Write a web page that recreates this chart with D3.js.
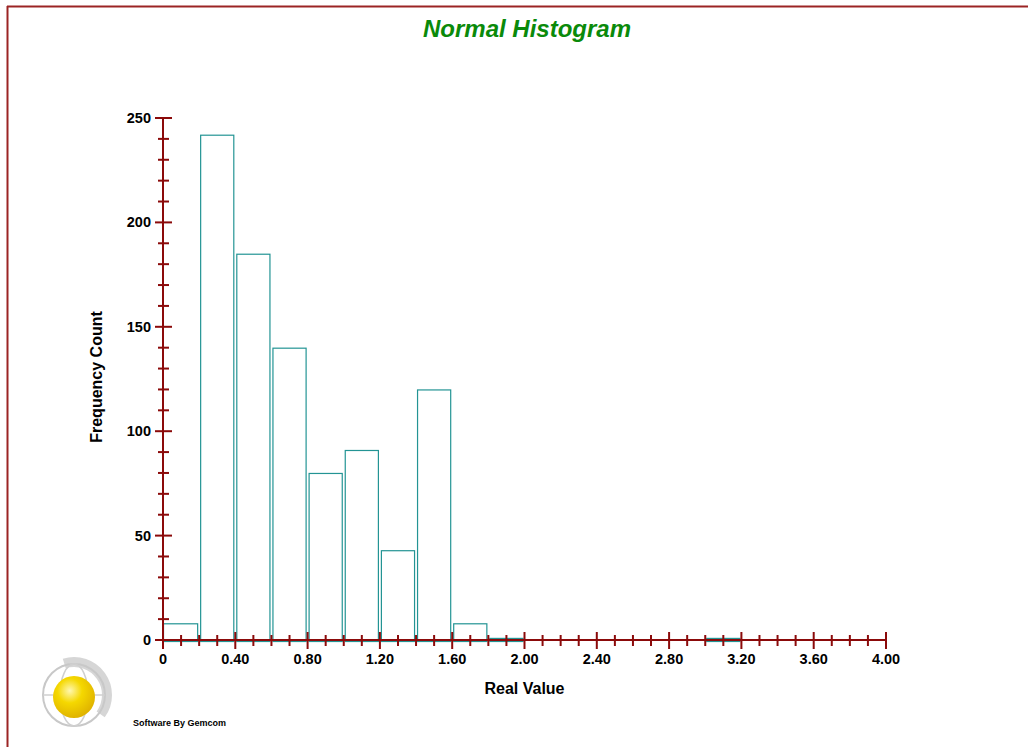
<!DOCTYPE html>
<html>
<head>
<meta charset="utf-8">
<script src="https://cdn.jsdelivr.net/npm/d3@7"></script>
<style>
  body { margin: 0; background: #fff; }
  text { font-family: "Liberation Sans", Arial, sans-serif; }
</style>
</head>
<body>
<div class="chart"></div>
<script>
// bin edges and counts
const binStarts = [0, 0.2, 0.4, 0.6, 0.8, 1.0, 1.2, 1.4, 1.6, 1.8, 3.0];
const counts    = [8, 242, 185, 140, 80, 91, 43, 120, 8, 1, 1];
const binWidth = 0.2;
const xTickLabels = ["0", "0.40", "0.80", "1.20", "1.60", "2.00", "2.40", "2.80", "3.20", "3.60", "4.00"];
const yTickValues = [0, 50, 100, 150, 200, 250];

const W = 1028, H = 747;
const margin = {top: 118, left: 163, right: 142, bottom: 107};
const width = W - margin.left - margin.right;
const height = H - margin.top - margin.bottom;

const axisColor = "#8b0a0a";
const barColor = "#239494";

const root = d3.select(".chart").append("svg")
    .attr("width", W)
    .attr("height", H);

// frame lines top and left
root.append("line")
    .attr("x1", 7).attr("x2", W).attr("y1", 6.5).attr("y2", 6.5)
    .attr("stroke", "#9b2424").attr("stroke-width", 2);
root.append("line")
    .attr("x1", 7.5).attr("x2", 7.5).attr("y1", 6).attr("y2", H)
    .attr("stroke", "#9b2424").attr("stroke-width", 2);

// title
root.append("text")
    .attr("x", 527).attr("y", 37)
    .attr("text-anchor", "middle")
    .attr("font-size", 24)
    .attr("font-weight", "bold")
    .attr("font-style", "italic")
    .attr("fill", "#0a8a0a")
    .text("Normal Histogram");

const svg = root.append("g")
    .attr("transform", `translate(${margin.left},${margin.top})`);

const xScale = d3.scaleLinear().domain([0, 4]).range([0, width]);
const yScale = d3.scaleLinear().domain([0, 250]).range([height, 0]);

// bars
svg.selectAll(".bar")
    .data(binStarts.map((b, i) => ({x0: b, x1: b + binWidth, n: counts[i]})))
    .enter()
    .append("rect")
    .attr("class", "bar")
    .attr("x", d => xScale(d.x0) + (d.x0 === 0 ? 0.5 : 1.5))
    .attr("y", d => yScale(d.n) + 0.5)
    .attr("width", d => xScale(d.x1) - xScale(d.x0) - (d.x0 === 0 ? 2 : 3))
    .attr("height", d => yScale(0) - yScale(d.n) + 1)
    .attr("fill", "none")
    .attr("stroke", barColor)
    .attr("stroke-width", 1.2);

// y axis
const yAxisG = svg.append("g").attr("class", "y-axis");
yAxisG.append("line")
    .attr("x1", 0).attr("x2", 0)
    .attr("y1", yScale(250)).attr("y2", yScale(0))
    .attr("stroke", axisColor).attr("stroke-width", 2);
yAxisG.selectAll(".ytick")
    .data(d3.range(0, 251, 10))
    .enter().append("line")
    .attr("x1", d => d % 50 === 0 ? -8 : -5)
    .attr("x2", d => d % 50 === 0 ? 9 : 6)
    .attr("y1", d => yScale(d)).attr("y2", d => yScale(d))
    .attr("stroke", axisColor).attr("stroke-width", 2);
yAxisG.selectAll(".ylab")
    .data(yTickValues)
    .enter().append("text")
    .attr("x", -12)
    .attr("y", d => yScale(d) + 5)
    .attr("text-anchor", "end")
    .attr("font-size", 14.5)
    .attr("font-weight", "bold")
    .text(d => d);

// x axis
const xAxisG = svg.append("g").attr("class", "x-axis")
    .attr("transform", `translate(0,${height})`);
xAxisG.append("line")
    .attr("x1", 0).attr("x2", xScale(4))
    .attr("stroke", axisColor).attr("stroke-width", 2);
xAxisG.selectAll(".xtick")
    .data(d3.range(0, 41))
    .enter().append("line")
    .attr("x1", d => xScale(d / 10)).attr("x2", d => xScale(d / 10))
    .attr("y1", d => d % 4 === 0 ? -8 : -5)
    .attr("y2", d => d % 4 === 0 ? 9 : 6)
    .attr("stroke", axisColor).attr("stroke-width", 2);
xAxisG.selectAll(".xlab")
    .data(xTickLabels)
    .enter().append("text")
    .attr("x", (d, i) => xScale(i * 0.4))
    .attr("y", 24)
    .attr("text-anchor", "middle")
    .attr("font-size", 14.5)
    .attr("font-weight", "bold")
    .text(d => d);

// axis titles
svg.append("text")
    .attr("x", xScale(2)).attr("y", height + 54)
    .attr("text-anchor", "middle")
    .attr("font-size", 16)
    .attr("font-weight", "bold")
    .text("Real Value");

svg.append("text")
    .attr("transform", `translate(-61,${height / 2 - 2}) rotate(-90)`)
    .attr("text-anchor", "middle")
    .attr("font-size", 16)
    .attr("font-weight", "bold")
    .text("Frequency Count");

// logo - rough globe
const logo = root.append("g").attr("transform", "translate(74,695)");
logo.append("path")
    .attr("d", d3.arc()({innerRadius: 28, outerRadius: 38, startAngle: -0.3, endAngle: 2.2}))
    .attr("fill", "#d6d6d6");
logo.append("circle").attr("r", 31).attr("fill", "none").attr("stroke", "#c8c8c8").attr("stroke-width", 2);
logo.append("ellipse").attr("rx", 14).attr("ry", 31).attr("fill", "none").attr("stroke", "#cfcfcf").attr("stroke-width", 1.5);
logo.append("line").attr("x1", -31).attr("x2", 31).attr("stroke", "#cfcfcf").attr("stroke-width", 1.5);
const grad = root.append("defs").append("radialGradient").attr("id", "sun")
    .attr("cx", "40%").attr("cy", "35%").attr("r", "65%");
grad.append("stop").attr("offset", "0%").attr("stop-color", "#fff7b0");
grad.append("stop").attr("offset", "45%").attr("stop-color", "#f5d800");
grad.append("stop").attr("offset", "100%").attr("stop-color", "#e0b400");
logo.append("circle").attr("r", 21).attr("cy", 2).attr("fill", "url(#sun)");

root.append("text")
    .attr("x", 133).attr("y", 726)
    .attr("font-size", 9)
    .attr("font-weight", "bold")
    .text("Software By Gemcom");
</script>
</body>
</html>
